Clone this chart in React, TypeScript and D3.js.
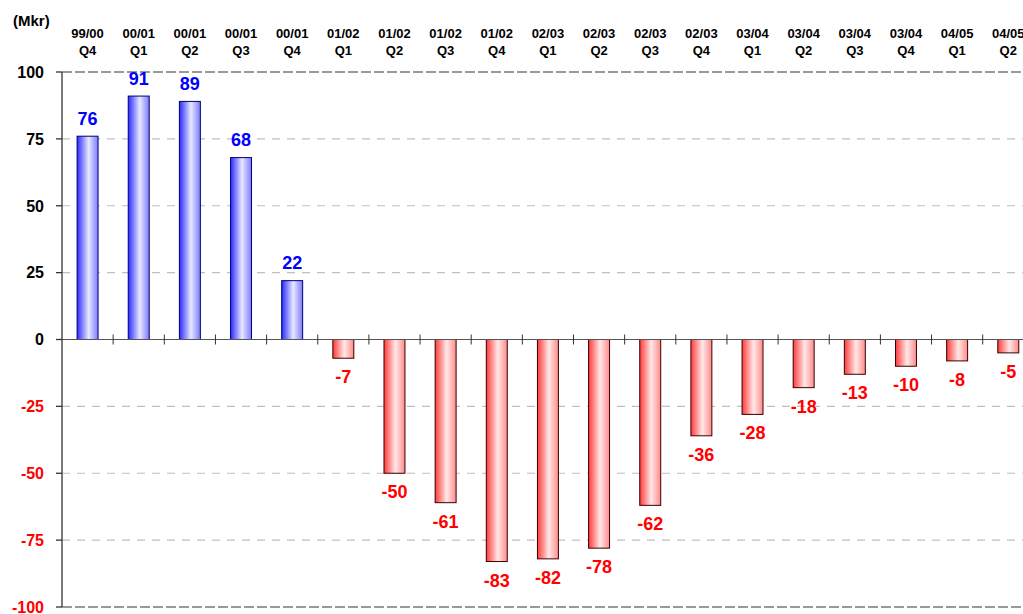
import React from "react";
import * as d3 from "d3";

const periods = ["99/00","00/01","00/01","00/01","00/01","01/02","01/02","01/02","01/02","02/03","02/03","02/03","02/03","03/04","03/04","03/04","03/04","04/05","04/05"];
const quarters = ["Q4","Q1","Q2","Q3","Q4","Q1","Q2","Q3","Q4","Q1","Q2","Q3","Q4","Q1","Q2","Q3","Q4","Q1","Q2"];
const values = [76, 91, 89, 68, 22, -7, -50, -61, -83, -82, -78, -62, -36, -28, -18, -13, -10, -8, -5];
const yTicks = [100, 75, 50, 25, 0, -25, -50, -75, -100];
const unitLabel = "(Mkr)";

const W = 1023;
const H = 614;
const FONT = "'Liberation Sans', Arial, sans-serif";

export default function App() {
  const ids = values.map((_, i) => String(i));
  const step = 51.15;
  const x0 = 62;
  const x = d3.scaleBand<string>().domain(ids).range([x0, x0 + step * ids.length]).paddingInner(0.59).paddingOuter(0.295);
  const y = d3.scaleLinear().domain([-100, 100]).range([607, 72]);
  const bw = x.bandwidth();

  return (
    <svg width={W} height={H} style={{ position: "absolute", left: 0, top: 0, background: "#fff" }} fontFamily={FONT}>
      <defs>
        <linearGradient id="gBlue" x1="0" x2="1" y1="0" y2="0">
          <stop offset="0" stopColor="#2a2aff" />
          <stop offset="0.55" stopColor="#e8e8ff" />
          <stop offset="1" stopColor="#7a7aff" />
        </linearGradient>
        <linearGradient id="gRed" x1="0" x2="1" y1="0" y2="0">
          <stop offset="0" stopColor="#ff3a3a" />
          <stop offset="0.55" stopColor="#ffe8e8" />
          <stop offset="1" stopColor="#ff8a8a" />
        </linearGradient>
      </defs>

      {/* gridlines */}
      {yTicks.filter(t => t !== 0).map(t => {
        const edge = t === 100 || t === -100;
        return (
          <line key={"g" + t} x1={x0} x2={W + 20} y1={y(t)} y2={y(t)}
            stroke={edge ? "#999" : "#c0c0c0"} strokeWidth={edge ? 2 : 1.2}
            strokeDasharray={edge ? "10,3" : "8,7"} />
        );
      })}

      {/* bars */}
      {values.map((v, i) => {
        const top = y(Math.max(0, v));
        const bot = y(Math.min(0, v));
        return (
          <rect key={"b" + i} x={x(String(i))} y={top} width={bw} height={bot - top}
            fill={v >= 0 ? "url(#gBlue)" : "url(#gRed)"}
            stroke={v >= 0 ? "#000070" : "#3a0000"} strokeWidth={1} />
        );
      })}

      {/* zero line and ticks */}
      <line x1={x0} x2={W + 20} y1={y(0)} y2={y(0)} stroke="#555" strokeWidth={1.2} />
      {ids.slice(1).map((id) => {
        const xb = (x(id) as number) - (step - bw) / 2;
        return <line key={"t" + id} x1={xb} x2={xb} y1={y(0) - 5} y2={y(0) + 5} stroke="#333" strokeWidth={1} />;
      })}

      {/* y axis */}
      <line x1={x0} x2={x0} y1={y(100)} y2={y(-100)} stroke="#333" strokeWidth={1.3} />
      {yTicks.map(t => (
        <g key={"y" + t}>
          <line x1={x0 - 6} x2={x0} y1={y(t)} y2={y(t)} stroke="#333" strokeWidth={1.3} />
          <text x={44} y={y(t)} dy="0.36em" textAnchor="end" fontSize={16} fontWeight="bold"
            fill={t < 0 ? "#ff0000" : "#000"}>{t}</text>
        </g>
      ))}

      {/* unit label */}
      <text x={13} y={26} fontSize={15} fontWeight="bold" fill="#000">{unitLabel}</text>

      {/* category labels */}
      {ids.map((id, i) => {
        const cx = (x(id) as number) + bw / 2;
        return (
          <text key={"c" + i} textAnchor="middle" fontSize={13} fontWeight="bold" fill="#000">
            <tspan x={cx} y={37.5}>{periods[i]}</tspan>
            <tspan x={cx} y={55}>{quarters[i]}</tspan>
          </text>
        );
      })}

      {/* value labels */}
      {values.map((v, i) => {
        const cx = (x(String(i)) as number) + bw / 2;
        const ly = v >= 0 ? y(v) - 11.5 : y(v) + 25;
        return (
          <text key={"v" + i} x={cx} y={ly} textAnchor="middle" fontSize={18} fontWeight="bold"
            fill={v >= 0 ? "#0000ff" : "#ff0000"}>{v}</text>
        );
      })}
    </svg>
  );
}
